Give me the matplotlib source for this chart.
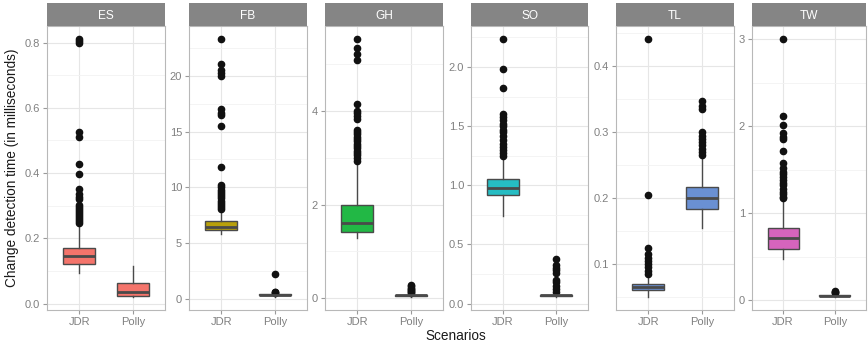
import matplotlib
matplotlib.use('Agg')
import matplotlib.pyplot as plt
from matplotlib.ticker import MultipleLocator, FormatStrFormatter

plt.rcParams['font.family'] = ['Liberation Sans', 'DejaVu Sans']

scenarios = ['ES', 'FB', 'GH', 'SO', 'TL', 'TW']
tools = ['JDR', 'Polly']
colors = ['#F4746B', '#B8A00A', '#22B845', '#26BDC3', '#6A90D3', '#D664BD']

# boxplot statistics, one value per scenario
jdr_lo = [0.093, 5.85, 1.28, 0.74, 0.050, 0.47]
jdr_q1 = [0.120, 6.17, 1.41, 0.915, 0.060, 0.59]
jdr_med = [0.145, 6.40, 1.61, 0.98, 0.065, 0.715]
jdr_q3 = [0.170, 7.00, 2.00, 1.05, 0.070, 0.83]
jdr_hi = [0.240, 7.95, 2.88, 1.23, 0.083, 1.15]
jdr_out = [
    [0.812, 0.806, 0.800, 0.527, 0.512, 0.428, 0.398, 0.352, 0.335, 0.328, 0.322,
     0.302, 0.296, 0.290, 0.284, 0.278, 0.272, 0.266, 0.260, 0.254, 0.248],
    [23.35, 21.05, 20.5, 20.25, 20.0, 17.05, 16.7, 16.45, 15.5, 11.85, 10.2, 10.0,
     9.8, 9.6, 9.4, 9.2, 9.0, 8.8, 8.6, 8.4, 8.2, 8.05],
    [5.55, 5.35, 5.22, 5.1, 4.15, 4.0, 3.95, 3.9, 3.82, 3.6, 3.55, 3.5, 3.45, 3.4,
     3.35, 3.3, 3.25, 3.2, 3.15, 3.1, 3.05, 3.0, 2.93],
    [2.24, 1.98, 1.82, 1.60, 1.58, 1.55, 1.52, 1.50, 1.47, 1.45, 1.42, 1.38, 1.35,
     1.32, 1.30, 1.27, 1.25],
    [0.442, 0.205, 0.125, 0.115, 0.110, 0.105, 0.100, 0.095, 0.090, 0.085],
    [3.01, 2.12, 2.02, 1.92, 1.88, 1.85, 1.72, 1.58, 1.52, 1.48, 1.45, 1.42, 1.38,
     1.35, 1.32, 1.28, 1.25, 1.22, 1.19, 1.17],
]

polly_lo = [0.020, 0.15, 0.02, 0.055, 0.155, 0.035]
polly_q1 = [0.022, 0.30, 0.05, 0.060, 0.184, 0.045]
polly_med = [0.036, 0.35, 0.06, 0.070, 0.200, 0.050]
polly_q3 = [0.064, 0.40, 0.07, 0.075, 0.217, 0.055]
polly_hi = [0.114, 0.50, 0.10, 0.090, 0.265, 0.065]
polly_out = [
    [],
    [2.25, 0.65, 0.60, 0.55],
    [0.27, 0.25, 0.22, 0.20, 0.18, 0.15, 0.13, 0.11],
    [0.38, 0.33, 0.30, 0.28, 0.26, 0.20, 0.18, 0.15, 0.12, 0.10],
    [0.347, 0.340, 0.335, 0.300, 0.295, 0.290, 0.285, 0.280, 0.275, 0.270, 0.266],
    [0.100, 0.095, 0.090, 0.085],
]

major_step = [0.2, 5, 2, 0.5, 0.1, 1]
tick_fmt = ['%.1f', '%d', '%d', '%.1f', '%.1f', '%d']

# panel left/right edges in pixels
panel_px = [(47, 165), (189, 307), (325, 443), (471, 588), (616, 734), (752, 866)]

W, H = 868, 347
fig = plt.figure(figsize=(W / 100, H / 100), dpi=100)
bottom = 1 - 310 / H
top = 1 - 25.7 / H
strip_top = 1 - 3.3 / H

for i, name in enumerate(scenarios):
    l, r = panel_px[i]
    ax = fig.add_axes([l / W, bottom, (r - l) / W, top - bottom])
    stats = [
        dict(med=jdr_med[i], q1=jdr_q1[i], q3=jdr_q3[i], whislo=jdr_lo[i],
             whishi=jdr_hi[i], fliers=jdr_out[i], label=tools[0]),
        dict(med=polly_med[i], q1=polly_q1[i], q3=polly_q3[i], whislo=polly_lo[i],
             whishi=polly_hi[i], fliers=polly_out[i], label=tools[1]),
    ]
    ax.bxp(stats, positions=[1, 2], widths=0.6, patch_artist=True,
           showcaps=False, zorder=3,
           boxprops=dict(facecolor=colors[i], edgecolor='#4a4a4a', linewidth=1.0),
           medianprops=dict(color='#4a4a4a', linewidth=2.0),
           whiskerprops=dict(color='#4a4a4a', linewidth=1.0),
           flierprops=dict(marker='o', markerfacecolor='#111111',
                           markeredgecolor='#111111', markersize=4.5))

    vals = jdr_out[i] + polly_out[i] + [jdr_lo[i], polly_lo[i], jdr_hi[i], polly_hi[i]]
    lo, hi = min(vals), max(vals)
    pad = 0.05 * (hi - lo)
    ax.set_ylim(lo - pad, hi + pad)
    ax.set_xlim(0.4, 2.6)

    ax.yaxis.set_major_locator(MultipleLocator(major_step[i]))
    ax.yaxis.set_minor_locator(MultipleLocator(major_step[i] / 2))
    ax.yaxis.set_major_formatter(FormatStrFormatter(tick_fmt[i]))
    ax.grid(True, which='major', color='#e6e6e6', linewidth=0.8, zorder=0)
    ax.grid(True, which='minor', axis='y', color='#f2f2f2', linewidth=0.6, zorder=0)
    ax.set_axisbelow(True)

    ax.tick_params(axis='both', which='major', colors='#9a9a9a', length=3, width=0.8,
                   labelsize=8, labelcolor='#808080', pad=2)
    ax.tick_params(axis='y', which='minor', length=0)
    for s in ax.spines.values():
        s.set_color('#b8b8b8')
        s.set_linewidth(0.8)

    sax = fig.add_axes([l / W, top, (r - l) / W, strip_top - top])
    sax.set_facecolor('#858585')
    sax.set_xticks([])
    sax.set_yticks([])
    for s in sax.spines.values():
        s.set_visible(False)
    sax.text(0.5, 0.45, name, color='white', fontsize=8.6, ha='center', va='center',
             transform=sax.transAxes)

fig.text(12 / W, (bottom + top) / 2, 'Change detection time (in milliseconds)',
         rotation=90, ha='center', va='center', fontsize=9.8, color='#1a1a1a')
fig.text(456 / W, 1 - 336 / H, 'Scenarios', ha='center', va='center',
         fontsize=9.8, color='#1a1a1a')

fig.savefig('out.png', dpi=100)
